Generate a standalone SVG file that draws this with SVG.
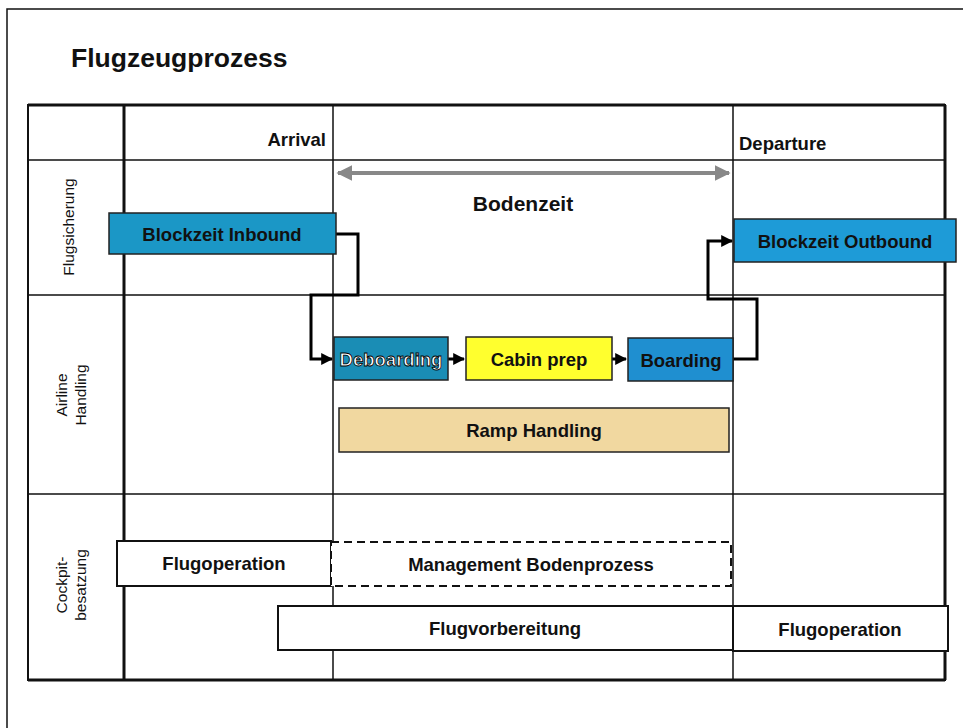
<svg xmlns="http://www.w3.org/2000/svg" width="963" height="728" viewBox="0 0 963 728">
<defs>
<style>
.t{font-family:"Liberation Sans",Arial,sans-serif;font-weight:bold;font-size:18.5px;fill:#111;text-anchor:middle;dominant-baseline:central}
.lane{font-family:"Liberation Sans",Arial,sans-serif;font-size:15.5px;fill:#111;text-anchor:middle;dominant-baseline:central}
.thin{stroke:#111;stroke-width:1.5;fill:none}
.thick{stroke:#111;stroke-width:3;fill:none}
.box{stroke:#222;stroke-width:1.5}
.conn{stroke:#000;stroke-width:3;fill:none}
</style>
<marker id="ah" viewBox="0 0 10 10" refX="9" refY="5" markerWidth="4" markerHeight="4" orient="auto"><path d="M0,0 L10,5 L0,10 z" fill="#000"/></marker>
<marker id="gh" viewBox="0 0 10 10" refX="9" refY="5" markerWidth="4" markerHeight="4" orient="auto-start-reverse"><path d="M0,0 L10,5 L0,10 z" fill="#888"/></marker>
</defs>
<rect width="963" height="728" fill="#fff"/>
<!-- page frame -->
<path d="M7,728 V9 H963" class="thin"/>
<text x="71" y="58" class="t" style="font-size:26.5px;text-anchor:start">Flugzeugprozess</text>
<!-- table -->
<g id="table">
<rect x="28" y="105" width="917" height="575" class="thin" style="stroke-width:2"/>
<path d="M945,105 V680 M28,680 H945 M28,105 H945" class="thick"/>
<path d="M124,105 V680" class="thick"/>
<path d="M333,105 V680 M733,105 V680" class="thin"/>
<path d="M28,160 H945 M28,295 H945 M28,494 H945" class="thin"/>
</g>
<g id="headers">
<text x="326" y="139" class="t" style="text-anchor:end">Arrival</text>
<text x="739" y="143" class="t" style="text-anchor:start">Departure</text>
</g>
<g id="lanes">
<text class="lane" transform="translate(68,227) rotate(-90)">Flugsicherung</text>
<text class="lane" transform="translate(61,395) rotate(-90)">Airline</text>
<text class="lane" transform="translate(80,395) rotate(-90)">Handling</text>
<text class="lane" transform="translate(61,585) rotate(-90)">Cockpit-</text>
<text class="lane" transform="translate(80,585) rotate(-90)">besatzung</text>
</g>
<g id="bodenzeit">
<line x1="338" y1="173" x2="729" y2="173" stroke="#888" stroke-width="4" marker-start="url(#gh)" marker-end="url(#gh)"/>
<text x="523" y="203" class="t" style="font-size:21px">Bodenzeit</text>
</g>
<g id="connectors">
<path d="M336,234 H358 V295 H311 V359 H332" class="conn" marker-end="url(#ah)"/>
<path d="M448,359 H464" class="conn" marker-end="url(#ah)"/>
<path d="M612,359 H626" class="conn" marker-end="url(#ah)"/>
<path d="M733,359 H757 V299 H708 V241 H732" class="conn" marker-end="url(#ah)"/>
</g>
<g id="blockzeit-inbound">
<rect x="109" y="213" width="227" height="41" fill="#1b97c6" class="box"/>
<text x="222" y="234" class="t">Blockzeit Inbound</text>
</g>
<g id="blockzeit-outbound">
<rect x="734" y="219" width="222" height="43" fill="#1e9bd7" class="box"/>
<text x="845" y="241" class="t">Blockzeit Outbound</text>
</g>
<g id="deboarding">
<rect x="334" y="337" width="114" height="43" fill="#1a8db5" class="box"/>
<text x="391" y="359" class="t" style="fill:#fff;stroke:#000;stroke-width:0.8">Deboarding</text>
</g>
<g id="cabin-prep">
<rect x="466" y="337" width="146" height="43" fill="#ffff2e" class="box"/>
<text x="539" y="359" class="t">Cabin prep</text>
</g>
<g id="boarding">
<rect x="628" y="338" width="105" height="43" fill="#1f8fd0" class="box"/>
<text x="681" y="360" class="t">Boarding</text>
</g>
<g id="ramp-handling">
<rect x="339" y="408" width="390" height="44" fill="#f1d8a0" class="box"/>
<text x="534" y="430" class="t">Ramp Handling</text>
</g>
<g id="flugoperation-1">
<rect x="117" y="541" width="214" height="45" fill="#fff" stroke="#111" stroke-width="2"/>
<text x="224" y="563" class="t">Flugoperation</text>
</g>
<g id="management-bodenprozess">
<rect x="331" y="542" width="400" height="44" fill="#fff" stroke="#111" stroke-width="2" stroke-dasharray="8,5"/>
<text x="531" y="564" class="t">Management Bodenprozess</text>
</g>
<g id="flugvorbereitung">
<rect x="278" y="606" width="455" height="44" fill="#fff" stroke="#111" stroke-width="2"/>
<text x="505" y="628" class="t">Flugvorbereitung</text>
</g>
<g id="flugoperation-2">
<rect x="733" y="606" width="215" height="45" fill="#fff" stroke="#111" stroke-width="2"/>
<text x="840" y="629" class="t">Flugoperation</text>
</g>
</svg>
